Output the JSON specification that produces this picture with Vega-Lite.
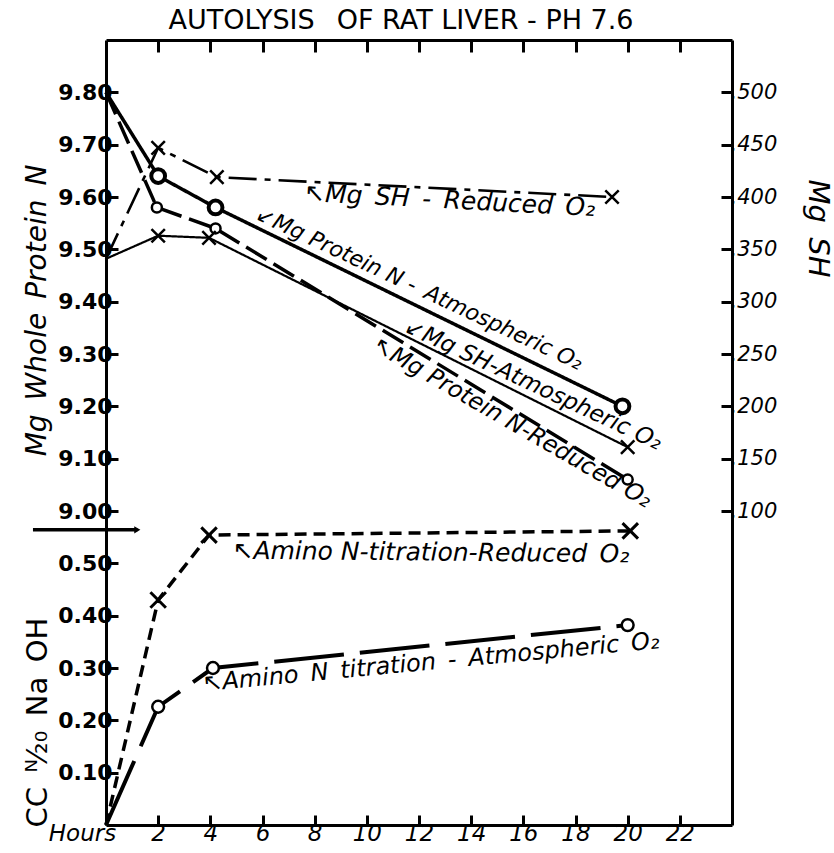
{
  "$schema": "https://vega.github.io/schema/vega-lite/v6.json",
  "autosize": {"type": "none"},
  "width": 626,
  "height": 785,
  "padding": {"left": 106, "top": 40, "right": 102, "bottom": 28},
  "background": "white",
  "config": {"view": {"stroke": null}, "font": "DejaVu Sans"},
  "title": {"text": "AUTOLYSIS\u2002 OF RAT LIVER - PH 7.6", "frame": "group", "anchor": "middle", "dx": -18, "dy": 33, "offset": 10, "fontSize": 27, "font": "DejaVu Sans", "fontWeight": "normal", "color": "black", "baseline": "bottom"},
  "datasets": {
    "protein": [
      {"series": "Atmospheric O2", "hours": 0, "n": 9.80},
      {"series": "Atmospheric O2", "hours": 2.0, "n": 9.64},
      {"series": "Atmospheric O2", "hours": 4.2, "n": 9.58},
      {"series": "Atmospheric O2", "hours": 19.8, "n": 9.20},
      {"series": "Reduced O2", "hours": 0, "n": 9.80},
      {"series": "Reduced O2", "hours": 1.95, "n": 9.58},
      {"series": "Reduced O2", "hours": 4.2, "n": 9.54},
      {"series": "Reduced O2", "hours": 20.0, "n": 9.06}
    ],
    "sh": [
      {"series": "Atmospheric O2", "hours": 0, "sh": 0.341},
      {"series": "Atmospheric O2", "hours": 2.0, "sh": 0.363},
      {"series": "Atmospheric O2", "hours": 3.95, "sh": 0.361},
      {"series": "Atmospheric O2", "hours": 20.0, "sh": 0.161},
      {"series": "Reduced O2", "hours": 0, "sh": 0.341},
      {"series": "Reduced O2", "hours": 2.0, "sh": 0.447},
      {"series": "Reduced O2", "hours": 4.25, "sh": 0.419},
      {"series": "Reduced O2", "hours": 19.4, "sh": 0.400}
    ],
    "amino": [
      {"series": "Atmospheric O2", "hours": 0, "cc": 0},
      {"series": "Atmospheric O2", "hours": 2.0, "cc": 0.226},
      {"series": "Atmospheric O2", "hours": 4.1, "cc": 0.300},
      {"series": "Atmospheric O2", "hours": 20.0, "cc": 0.382},
      {"series": "Reduced O2", "hours": 0, "cc": 0},
      {"series": "Reduced O2", "hours": 2.0, "cc": 0.430},
      {"series": "Reduced O2", "hours": 3.95, "cc": 0.554},
      {"series": "Reduced O2", "hours": 20.1, "cc": 0.562}
    ]
  },
  "layer": [
    {
      "data": {"name": "protein"},
      "mark": {"type": "line", "color": "black", "strokeCap": "butt", "strokeWidth": 3.5},
      "encoding": {
        "x": {"field": "hours", "type": "quantitative", "scale": {"domain": [0, 24], "nice": false},
          "axis": {"orient": "bottom", "values": [0, 2, 4, 6, 8, 10, 12, 14, 16, 18, 20, 22], "title": null, "grid": false,
            "domainWidth": 3, "domainColor": "black", "tickSize": -10, "tickWidth": 3, "tickColor": "black",
            "labelExpr": "datum.value === 0 ? 'Hours' : datum.label", "labelFont": "DejaVu Sans", "labelFontStyle": "italic",
            "labelFontSize": 23, "labelColor": "black", "labelPadding": 7, "labelFlush": false, "labelOverlap": false,
            "labelOffset": {"condition": {"test": "datum.value === 0", "value": -24}, "value": 0}}},
        "y": {"field": "n", "type": "quantitative", "scale": {"domain": [8.4, 9.9], "nice": false, "zero": false},
          "axis": {"orient": "left", "values": [9.0, 9.1, 9.2, 9.3, 9.4, 9.5, 9.6, 9.7, 9.8], "format": ".2f", "grid": false,
            "title": "Mg\u2002Whole\u2002Protein\u2002N", "titleX": -69, "titleY": 270, "titleAngle": -90, "titleAlign": "center", "titleBaseline": "middle",
            "titleFont": "DejaVu Sans", "titleFontStyle": "italic", "titleFontWeight": "normal", "titleFontSize": 28, "titleColor": "black",
            "domainWidth": 3, "domainColor": "black", "tickSize": -12, "tickWidth": 3, "tickColor": "black",
            "labelFontSize": 22, "labelFontWeight": "bold", "labelColor": "black", "labelPadding": 6, "labelFlush": false, "labelOverlap": false}},
        "strokeDash": {"field": "series", "type": "nominal", "scale": {"domain": ["Atmospheric O2", "Reduced O2"], "range": [[1, 0], [24, 8]]}, "legend": null}
      }
    },
    {
      "data": {"name": "protein"},
      "transform": [{"filter": "datum.hours > 0"}],
      "mark": {"type": "point", "filled": true, "fill": "white", "stroke": "black", "opacity": 1},
      "encoding": {
        "x": {"field": "hours", "type": "quantitative", "axis": null},
        "y": {"field": "n", "type": "quantitative", "scale": {"domain": [8.4, 9.9], "nice": false, "zero": false}, "axis": null},
        "size": {"field": "series", "type": "nominal", "scale": {"domain": ["Atmospheric O2", "Reduced O2"], "range": [190, 100]}, "legend": null},
        "strokeWidth": {"field": "series", "type": "nominal", "scale": {"domain": ["Atmospheric O2", "Reduced O2"], "range": [4, 2.5]}, "legend": null}
      }
    },
    {
      "data": {"name": "sh"},
      "mark": {"type": "line", "color": "black", "strokeCap": "butt"},
      "encoding": {
        "x": {"field": "hours", "type": "quantitative", "axis": null},
        "y": {"field": "sh", "type": "quantitative", "scale": {"domain": [-0.2, 0.55], "nice": false, "zero": false},
          "axis": {"orient": "right", "values": [0.1, 0.15, 0.2, 0.25, 0.3, 0.35, 0.4, 0.45, 0.5], "grid": false,
            "labelExpr": "replace(format(datum.value, '.3f'), '0.', '.')",
            "title": "Mg\u2002SH", "titleX": 85, "titleY": 188, "titleAngle": 90, "titleAlign": "center", "titleBaseline": "middle",
            "titleFont": "DejaVu Sans", "titleFontStyle": "italic", "titleFontWeight": "normal", "titleFontSize": 29, "titleColor": "black",
            "domainWidth": 3, "domainColor": "black", "tickSize": -11, "tickWidth": 3, "tickColor": "black",
            "labelFontSize": 21, "labelFontWeight": "normal", "labelFontStyle": "italic", "labelColor": "black", "labelPadding": 9, "labelFlush": false, "labelOverlap": false}},
        "strokeDash": {"field": "series", "type": "nominal", "scale": {"domain": ["Atmospheric O2", "Reduced O2"], "range": [[1, 0], [28, 8, 6, 8]]}, "legend": null},
        "strokeWidth": {"field": "series", "type": "nominal", "scale": {"domain": ["Atmospheric O2", "Reduced O2"], "range": [2.2, 2.6]}, "legend": null}
      }
    },
    {
      "data": {"name": "sh"},
      "transform": [{"filter": "datum.hours > 0"}],
      "mark": {"type": "point", "shape": "M-1,-1L1,1M-1,1L1,-1", "stroke": "black", "strokeWidth": 2.5, "size": 180, "opacity": 1},
      "encoding": {
        "x": {"field": "hours", "type": "quantitative", "axis": null},
        "y": {"field": "sh", "type": "quantitative", "scale": {"domain": [-0.2, 0.55], "nice": false, "zero": false}, "axis": null}
      }
    },
    {
      "data": {"name": "amino"},
      "mark": {"type": "line", "color": "black", "strokeCap": "butt"},
      "encoding": {
        "x": {"field": "hours", "type": "quantitative", "axis": null},
        "y": {"field": "cc", "type": "quantitative", "scale": {"domain": [0, 1.5], "nice": false},
          "axis": {"orient": "left", "values": [0.1, 0.2, 0.3, 0.4, 0.5], "format": ".2f", "grid": false, "domain": false,
            "title": "CC\u2002ᴺ⁄₂₀\u2002Na\u2002OH", "titleX": -69, "titleY": 682, "titleAngle": -90, "titleAlign": "center", "titleBaseline": "middle",
            "titleFont": "DejaVu Sans", "titleFontStyle": "normal", "titleFontWeight": "normal", "titleFontSize": 29, "titleColor": "black",
            "tickSize": -12, "tickWidth": 3, "tickColor": "black",
            "labelFontSize": 22, "labelFontWeight": "bold", "labelColor": "black", "labelPadding": 6, "labelFlush": false, "labelOverlap": false}},
        "strokeDash": {"field": "series", "type": "nominal", "scale": {"domain": ["Atmospheric O2", "Reduced O2"], "range": [[70, 16], [12, 7]]}, "legend": null},
        "strokeWidth": {"field": "series", "type": "nominal", "scale": {"domain": ["Atmospheric O2", "Reduced O2"], "range": [4, 3.5]}, "legend": null}
      }
    },
    {
      "data": {"name": "amino"},
      "transform": [{"filter": "datum.hours > 0"}],
      "mark": {"type": "point", "filled": true, "fill": "white", "stroke": "black", "opacity": 1},
      "encoding": {
        "x": {"field": "hours", "type": "quantitative", "axis": null},
        "y": {"field": "cc", "type": "quantitative", "scale": {"domain": [0, 1.5], "nice": false}, "axis": null},
        "shape": {"field": "series", "type": "nominal", "scale": {"domain": ["Atmospheric O2", "Reduced O2"], "range": ["circle", "M-1,-1L1,1M-1,1L1,-1"]}, "legend": null},
        "size": {"field": "series", "type": "nominal", "scale": {"domain": ["Atmospheric O2", "Reduced O2"], "range": [140, 240]}, "legend": null},
        "strokeWidth": {"field": "series", "type": "nominal", "scale": {"domain": ["Atmospheric O2", "Reduced O2"], "range": [2.5, 3]}, "legend": null}
      }
    },
    {
      "data": {"values": [{"hours": -2.8, "hours2": 1.2, "level": 0.564}]},
      "mark": {"type": "rule", "color": "black", "strokeWidth": 3.5},
      "encoding": {
        "x": {"field": "hours", "type": "quantitative", "axis": {"orient": "top", "values": [2, 4, 6, 8, 10, 12, 14, 16, 18, 20, 22], "labels": false, "title": null, "grid": false,
          "minExtent": 0, "maxExtent": 0,
          "domainWidth": 3, "domainColor": "black", "tickSize": -12, "tickWidth": 3, "tickColor": "black"}},
        "x2": {"field": "hours2"},
        "y": {"field": "level", "type": "quantitative", "scale": {"domain": [0, 1.5], "nice": false}, "axis": null}
      }
    },
    {
      "data": {"values": [{"hours": -2.8, "hours2": 1.2, "level": 0.564}]},
      "mark": {"type": "point", "shape": "triangle-right", "filled": true, "color": "black", "size": 50, "opacity": 1},
      "encoding": {
        "x": {"field": "hours2", "type": "quantitative", "axis": null},
        "y": {"field": "level", "type": "quantitative", "scale": {"domain": [0, 1.5], "nice": false}, "axis": null}
      }
    },
    {
      "data": {"values": [{"note": "↖Mg\u2002SH\u2002-\u2002Reduced\u2002O₂", "hours": 7.6, "level": 1.208}]},
      "mark": {"type": "text", "align": "left", "baseline": "middle", "angle": 3, "font": "DejaVu Sans", "fontStyle": "italic", "fontSize": 25, "color": "black"},
      "encoding": {
        "x": {"field": "hours", "type": "quantitative", "axis": null},
        "y": {"field": "level", "type": "quantitative", "scale": {"domain": [0, 1.5], "nice": false}, "axis": null},
        "text": {"field": "note"}
      }
    },
    {
      "data": {"values": [{"note": "↙Mg Protein N -\u2002Atmospheric O₂", "hours": 5.8, "level": 1.17}]},
      "mark": {"type": "text", "align": "left", "baseline": "middle", "angle": 25, "font": "DejaVu Sans", "fontStyle": "italic", "fontSize": 22, "color": "black"},
      "encoding": {
        "x": {"field": "hours", "type": "quantitative", "axis": null},
        "y": {"field": "level", "type": "quantitative", "scale": {"domain": [0, 1.5], "nice": false}, "axis": null},
        "text": {"field": "note"}
      }
    },
    {
      "data": {"values": [{"note": "↙Mg SH-Atmospheric O₂", "hours": 11.5, "level": 0.955}]},
      "mark": {"type": "text", "align": "left", "baseline": "middle", "angle": 25, "font": "DejaVu Sans", "fontStyle": "italic", "fontSize": 23, "color": "black"},
      "encoding": {
        "x": {"field": "hours", "type": "quantitative", "axis": null},
        "y": {"field": "level", "type": "quantitative", "scale": {"domain": [0, 1.5], "nice": false}, "axis": null},
        "text": {"field": "note"}
      }
    },
    {
      "data": {"values": [{"note": "↖Mg Protein N-Reduced O₂", "hours": 10.3, "level": 0.92}]},
      "mark": {"type": "text", "align": "left", "baseline": "middle", "angle": 30, "font": "DejaVu Sans", "fontStyle": "italic", "fontSize": 23.5, "color": "black"},
      "encoding": {
        "x": {"field": "hours", "type": "quantitative", "axis": null},
        "y": {"field": "level", "type": "quantitative", "scale": {"domain": [0, 1.5], "nice": false}, "axis": null},
        "text": {"field": "note"}
      }
    },
    {
      "data": {"values": [{"note": "↖Amino N-titration-Reduced\u2002O₂", "hours": 4.85, "level": 0.524}]},
      "mark": {"type": "text", "align": "left", "baseline": "middle", "angle": 0.5, "font": "DejaVu Sans", "fontStyle": "italic", "fontSize": 25, "color": "black"},
      "encoding": {
        "x": {"field": "hours", "type": "quantitative", "axis": null},
        "y": {"field": "level", "type": "quantitative", "scale": {"domain": [0, 1.5], "nice": false}, "axis": null},
        "text": {"field": "note"}
      }
    },
    {
      "data": {"values": [{"note": "↖Amino\u2002N\u2002titration\u2002-\u2002Atmospheric\u2002O₂", "hours": 3.7, "level": 0.269}]},
      "mark": {"type": "text", "align": "left", "baseline": "middle", "angle": -5.4, "font": "DejaVu Sans", "fontStyle": "italic", "fontSize": 24, "color": "black"},
      "encoding": {
        "x": {"field": "hours", "type": "quantitative", "axis": null},
        "y": {"field": "level", "type": "quantitative", "scale": {"domain": [0, 1.5], "nice": false}, "axis": null},
        "text": {"field": "note"}
      }
    }
  ],
  "resolve": {
    "scale": {"y": "independent", "strokeDash": "independent", "strokeWidth": "independent", "size": "independent", "shape": "independent"},
    "axis": {"y": "independent", "x": "independent"}
  }
}
